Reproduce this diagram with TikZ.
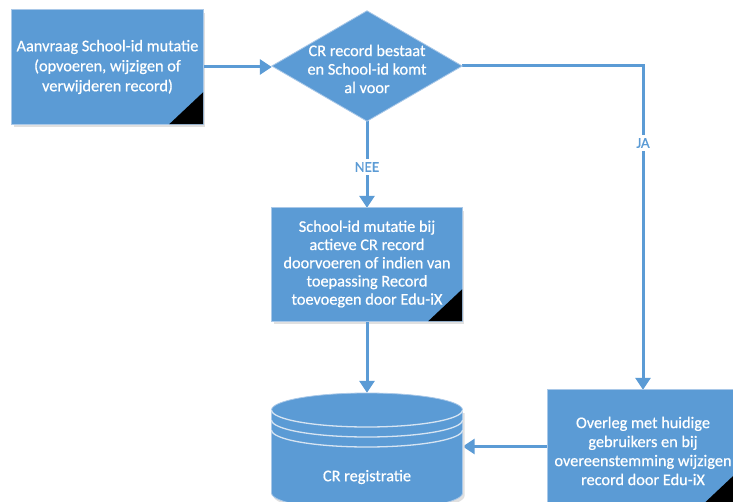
\documentclass[tikz,border=0pt]{standalone}
\usepackage{fontspec}
\setmainfont{Carlito}
\newfontfamily\boxfont{Carlito}[FakeBold=0.6]
\usetikzlibrary{arrows.meta,shapes.geometric}
\definecolor{obl}{HTML}{5B9BD5}
\definecolor{oedge}{HTML}{A9C8E8}
\definecolor{oline}{HTML}{D6E4F2}
\begin{document}
\begin{tikzpicture}[x=1pt,y=-1pt,
  txt/.style={text=white, align=center, font=\boxfont\fontsize{16.3}{20}\selectfont},
  conn/.style={draw=obl, line width=3pt},
  arr/.style={conn, -{Triangle[width=15pt,length=12pt]}},
  lbl/.style={fill=white, text=obl, inner sep=3pt, font=\boxfont\fontsize{15}{17}\selectfont},
  shad/.style={fill=black!12}
]
\useasboundingbox (0,0) rectangle (733,502);
\clip (0,0) rectangle (733,502);
\fill[white] (0,0) rectangle (733,502);

% nodes (geometry)
\node[minimum width=191pt, minimum height=114pt, inner sep=0pt] (b1) at (107.5,67) {};
\node[minimum width=190pt, minimum height=110pt, inner sep=0pt] (dia) at (367,66) {};
\node[minimum width=190pt, minimum height=113pt, inner sep=0pt] (b2) at (367,264.5) {};
\node[minimum width=191pt, minimum height=117pt, inner sep=0pt] (cyl) at (367,451.5) {};
\node[minimum width=190pt, minimum height=113pt, inner sep=0pt] (b3) at (643,446.5) {};

% shadows
\fill[shad] ([shift={(2,3)}]b1.north west) rectangle ([shift={(2,3)}]b1.south east);
\fill[shad] ([shift={(2,3)}]b2.north west) rectangle ([shift={(2,3)}]b2.south east);
\fill[shad] ([shift={(2,3)}]b3.north west) rectangle ([shift={(2,3)}]b3.south east);

% connectors
\draw[arr] (b1.east) -- (b1.east -| dia.west);
\draw[arr] (dia.south) -- (b2.north);
\draw[arr] (dia.east) -| (b3.north);
\draw[arr] (b2.south) -- (cyl.north);
\draw[arr] (b3.west) -- (b3.west -| cyl.east);
\node[lbl] (nee) at (367,167) {NEE};
\node[lbl] (ja) at (643,143) {JA};

% box 1
\fill[obl] (b1.north west) rectangle (b1.south east);
\draw[oedge, line width=0.8pt] (b1.north west) rectangle (b1.south east);
\fill[black] (b1.south east) -- ++(-34,0) -- ++(34,-32) -- cycle;
\node[txt] (t1) at (107.5,67) {Aanvraag School-id mutatie\\(opvoeren, wijzigen of\\verwijderen record)};

% diamond
\fill[obl, draw=oedge, line width=0.8pt] (dia.north) -- (dia.east) -- (dia.south) -- (dia.west) -- cycle;
\node[txt, font=\boxfont\fontsize{16.3}{18.5}\selectfont] (t2) at (367,69) {CR record bestaat\\en School-id komt\\al voor};

% box 2
\fill[obl] (b2.north west) rectangle (b2.south east);
\draw[oedge, line width=0.8pt] (b2.north west) rectangle (b2.south east);
\fill[black] (b2.south east) -- ++(-34,0) -- ++(34,-32) -- cycle;
\node[txt, font=\boxfont\fontsize{16.3}{18.2}\selectfont] (t3) at (367,264) {School-id mutatie bij\\actieve CR record\\doorvoeren of indien van\\toepassing Record\\toevoegen door Edu-iX};

% cylinder
\fill[black!12] (464.5,496) arc[start angle=0,end angle=180,x radius=95.5,y radius=17] -- (273.5,413) -- (464.5,413) -- cycle;
\filldraw[fill=obl, draw=oedge, line width=0.8pt] (462.5,493) arc[start angle=0,end angle=180,x radius=95.5,y radius=17]
  -- (271.5,410) arc[start angle=180,end angle=360,x radius=95.5,y radius=17] -- cycle;
\foreach \k in {0,10,20}{
  \draw[oline, line width=1.3pt] (462.5,410+\k) arc[start angle=0,end angle=180,x radius=95.5,y radius=17];
}
\node[txt] (t4) at (367,477) {CR registratie};

% box 3
\fill[obl] (b3.north west) rectangle (b3.south east);
\draw[oedge, line width=0.8pt] (b3.north west) rectangle (b3.south east);
\fill[black] (b3.south east) -- ++(-34,0) -- ++(34,-32) -- cycle;
\node[txt, font=\boxfont\fontsize{16.3}{19}\selectfont] (t5) at (643,451) {Overleg met huidige\\gebruikers en bij\\overeenstemming wijzigen\\record door Edu-iX};
\end{tikzpicture}
\end{document}
